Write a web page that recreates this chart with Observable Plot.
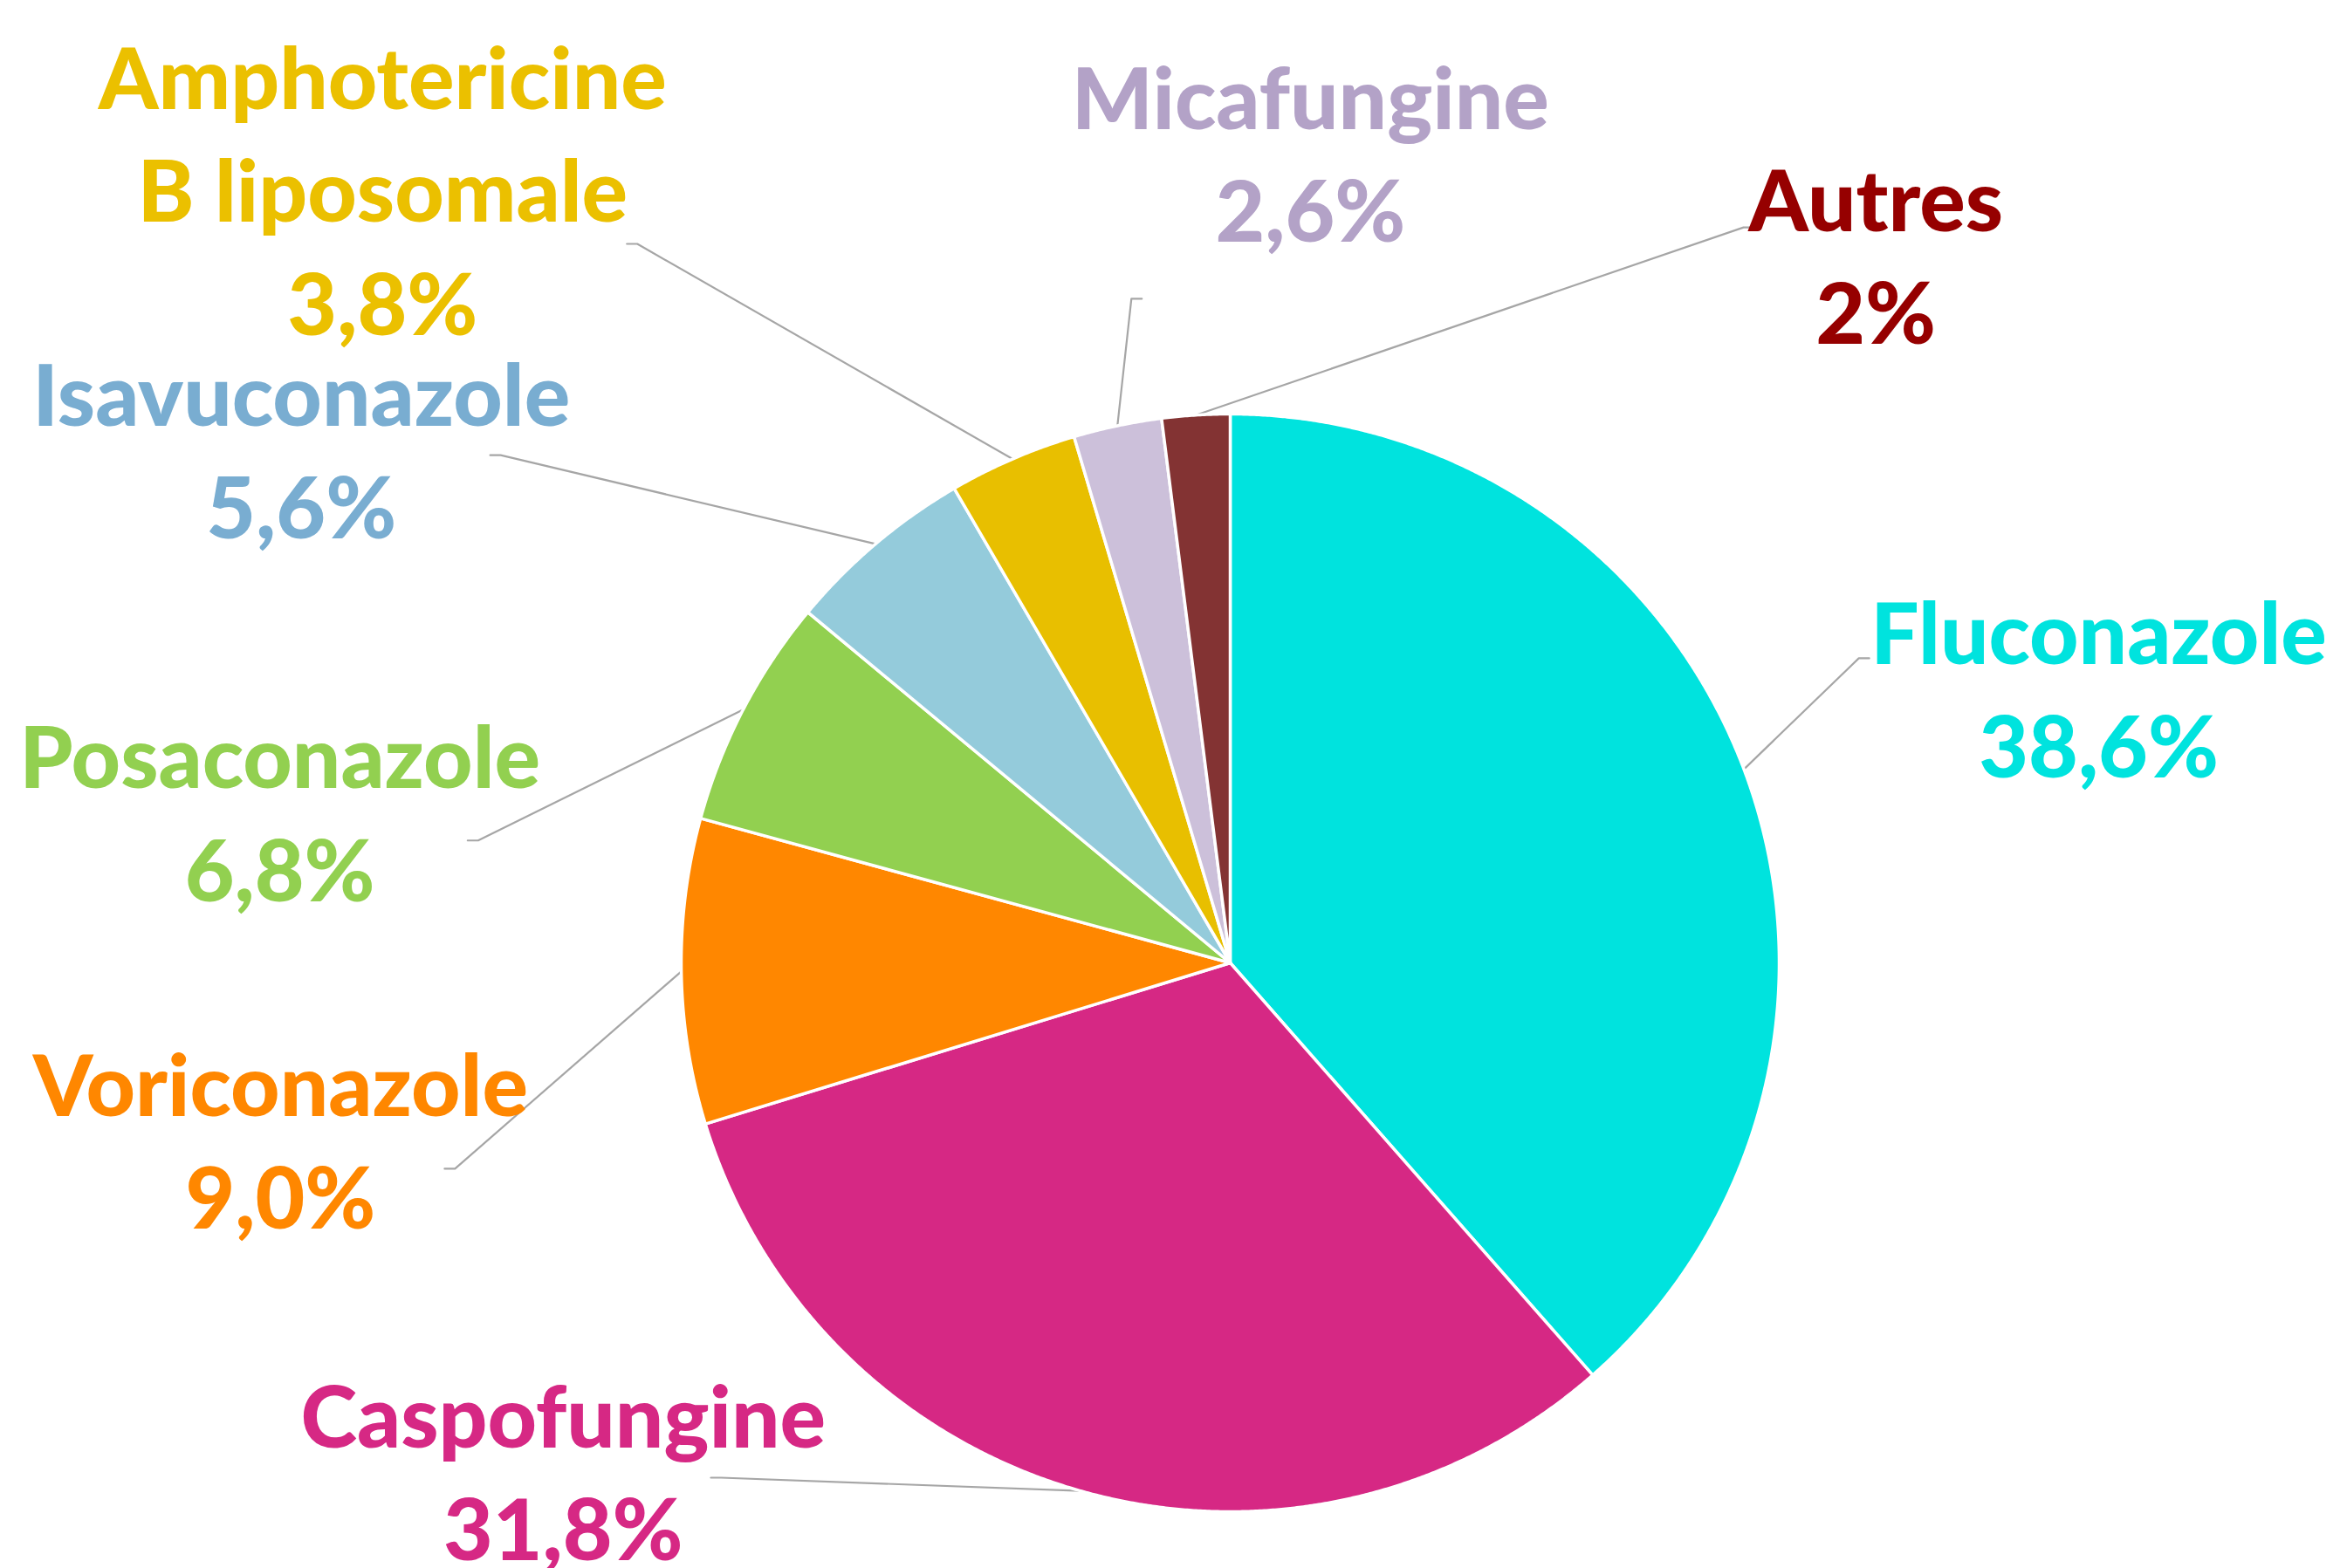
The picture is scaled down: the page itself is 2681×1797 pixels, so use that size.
<!DOCTYPE html>
<html>
<head>
<meta charset="utf-8">
<script src="https://cdn.jsdelivr.net/npm/d3@7"></script>
<script src="https://cdn.jsdelivr.net/npm/@observablehq/plot@0.6"></script>
<style>
  html, body { margin: 0; padding: 0; background: #ffffff; }
  #chart svg { display: block; }
</style>
</head>
<body>
<div id="chart"></div>
<script>
// ---- data ----
const categories = ["Fluconazole", "Caspofungine", "Voriconazole", "Posaconazole", "Isavuconazole", "Amphotericine\nB liposomale", "Micafungine", "Autres"];
const values = [38.6, 31.8, 9.0, 6.8, 5.6, 3.8, 2.6, 2];
const valueLabels = ["38,6%", "31,8%", "9,0%", "6,8%", "5,6%", "3,8%", "2,6%", "2%"];

// ---- styles ----
const sliceColors = ["#00E3DE", "#D62884", "#FF8700", "#92D050", "#94CBDB", "#E8BF00", "#CCC0DA", "#833333"];
const labelColors = ["#00E3DE", "#D62884", "#FF8700", "#92D050", "#79ADD1", "#EBC000", "#B3A2C7", "#960000"];

// ---- label layout (in pie-radius units, pie centre = 0,0, y up) ----
const labelX = [1.582, -1.215, -1.730, -1.731, -1.692, -1.544, 0.146, 1.176];
const labelY = [0.507, -0.920, -0.316, 0.281, 0.942, 1.416, 1.482, 1.296];
const elbowX = [1.145, -0.927, -1.412, -1.370, -1.329, -1.080, -0.180, 0.935];
const elbowY = [0.555, -0.938, -0.375, 0.223, 0.925, 1.310, 1.210, 1.340];

const W = 2681, H = 1797;
const R = 629;              // pie radius in px
const cx = 1409, cy = 1103; // pie centre in px

const arcs = d3.pie().sort(null).value(d => d)(values);

// slice polygons
const slicePts = [];
arcs.forEach((p, i) => {
  const name = categories[i];
  const n = Math.max(4, Math.ceil((p.endAngle - p.startAngle) / 0.004));
  slicePts.push({name, i, x: 0, y: 0});
  for (let k = 0; k <= n; k++) {
    const a = p.startAngle + (p.endAngle - p.startAngle) * k / n;
    slicePts.push({name, i, x: Math.sin(a), y: Math.cos(a)});
  }
  slicePts.push({name, i, x: 0, y: 0});
});

// leader lines
const leaderPts = [];
arcs.forEach((p, i) => {
  const name = categories[i];
  const m = (p.startAngle + p.endAngle) / 2;
  const dir = Math.sign(labelX[i] - elbowX[i]) || 1;
  leaderPts.push({name, x: Math.sin(m), y: Math.cos(m)});
  leaderPts.push({name, x: elbowX[i], y: elbowY[i]});
  leaderPts.push({name, x: elbowX[i] + dir * 0.019, y: elbowY[i]});
});

const labels = categories.map((c, i) => ({
  text: c + "\n" + valueLabels[i],
  x: labelX[i], y: labelY[i], color: labelColors[i]
}));

const chart = Plot.plot({
  width: W,
  height: H,
  margin: 0,
  style: {background: "#ffffff"},
  x: {domain: [-cx / R, (W - cx) / R], axis: null},
  y: {domain: [-(H - cy) / R, cy / R], axis: null},
  marks: [
    Plot.line(leaderPts, {x: "x", y: "y", z: "name", stroke: "#A6A6A6", strokeWidth: 2.2}),
    Plot.line(slicePts, {
      x: "x", y: "y", z: "name",
      fill: d => sliceColors[d.i],
      stroke: "#ffffff", strokeWidth: 3.5, strokeLinejoin: "round"
    }),
    Plot.text(labels, {
      x: "x", y: "y", text: "text",
      fill: "color",
      fontSize: 98, fontWeight: 900,
      fontFamily: "Lato, 'Open Sans', sans-serif",
      lineHeight: 1.32,
      textAnchor: "middle"
    })
  ]
});
document.getElementById("chart").appendChild(chart);
</script>
</body>
</html>
